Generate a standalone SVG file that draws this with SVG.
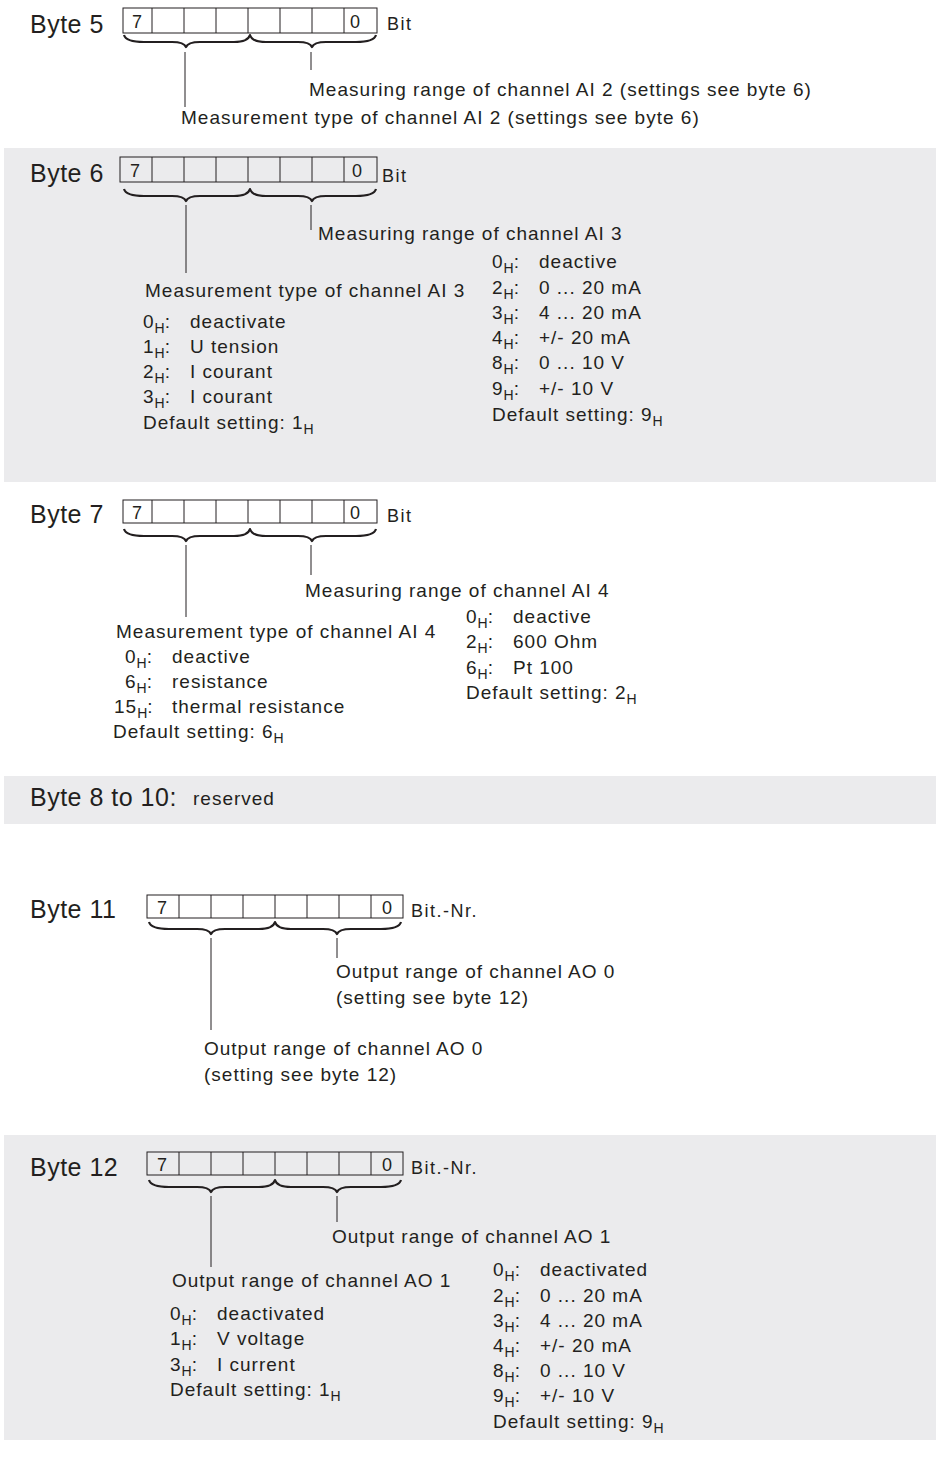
<svg xmlns="http://www.w3.org/2000/svg" width="936" height="1468" viewBox="0 0 936 1468">
<style>
text{font-family:"Liberation Sans",Arial,sans-serif;fill:#231f20}
.t{font-size:25px;letter-spacing:0.5px}
.l{font-size:19px;letter-spacing:1px}
.d{font-size:18px}
.b{font-size:18px;letter-spacing:1.5px}
.s{font-size:14px;letter-spacing:0}
.panel{fill:#ebebed}
.box{fill:none;stroke:#231f20;stroke-width:1}
.cl{stroke:#231f20;stroke-width:1}
.br{fill:none;stroke:#231f20;stroke-width:2.2;stroke-linejoin:round}
.ln{stroke:#231f20;stroke-width:1}
</style>
<defs>
<path id="brace" class="br" d="M0,0 Q2,7 20,7 L48,7 Q60,7 62,12 Q64,7 76,7 L110,7 Q124,7 126,0 Q128,7 142,7 L174,7 Q186,7 188,12 Q190,7 202,7 L232,7 Q250,7 252,0"/>
</defs>
<rect class="panel" x="4" y="148" width="932" height="334"/>
<rect class="panel" x="4" y="776" width="932" height="48"/>
<rect class="panel" x="4" y="1135" width="932" height="305"/>

<g id="byte5">
<text class="t" x="30" y="33">Byte 5</text>
<rect class="box" x="123" y="8" width="254" height="25"/>
<path class="cl" d="M152,8V33M184,8V33M216,8V33M248,8V33M280,8V33M312,8V33M344,8V33"/>
<text class="d" x="132" y="28">7</text>
<text class="d" x="350" y="28">0</text>
<text class="b" x="387" y="30">Bit</text>
<use href="#brace" x="124" y="35"/>
<text class="l" x="309" y="96">Measuring range of channel AI 2 (settings see byte 6)</text>
<text class="l" x="181" y="124">Measurement type of channel AI 2 (settings see byte 6)</text>
</g>

<g id="byte6">
<text class="t" x="30" y="182">Byte 6</text>
<rect class="box" x="120" y="157" width="257" height="25"/>
<path class="cl" d="M152,157V182M184,157V182M216,157V182M248,157V182M280,157V182M312,157V182M344,157V182"/>
<text class="d" x="130" y="177">7</text>
<text class="d" x="352" y="177">0</text>
<text class="b" x="382" y="182">Bit</text>
<use href="#brace" x="124" y="189"/>
<text class="l" x="318" y="240">Measuring range of channel AI 3</text>
<text class="l" x="145" y="297">Measurement type of channel AI 3</text>
<text class="l" x="143" y="328">0<tspan class="s" dy="5">H</tspan><tspan dy="-5">:</tspan></text><text class="l" x="190" y="328">deactivate</text>
<text class="l" x="143" y="353">1<tspan class="s" dy="5">H</tspan><tspan dy="-5">:</tspan></text><text class="l" x="190" y="353">U tension</text>
<text class="l" x="143" y="378">2<tspan class="s" dy="5">H</tspan><tspan dy="-5">:</tspan></text><text class="l" x="190" y="378">I courant</text>
<text class="l" x="143" y="403">3<tspan class="s" dy="5">H</tspan><tspan dy="-5">:</tspan></text><text class="l" x="190" y="403">I courant</text>
<text class="l" x="143" y="429">Default setting: 1<tspan class="s" dy="5">H</tspan></text>
<text class="l" x="492" y="268">0<tspan class="s" dy="5">H</tspan><tspan dy="-5">:</tspan></text><text class="l" x="539" y="268">deactive</text>
<text class="l" x="492" y="294">2<tspan class="s" dy="5">H</tspan><tspan dy="-5">:</tspan></text><text class="l" x="539" y="294">0 ... 20 mA</text>
<text class="l" x="492" y="319">3<tspan class="s" dy="5">H</tspan><tspan dy="-5">:</tspan></text><text class="l" x="539" y="319">4 ... 20 mA</text>
<text class="l" x="492" y="344">4<tspan class="s" dy="5">H</tspan><tspan dy="-5">:</tspan></text><text class="l" x="539" y="344">+/- 20 mA</text>
<text class="l" x="492" y="369">8<tspan class="s" dy="5">H</tspan><tspan dy="-5">:</tspan></text><text class="l" x="539" y="369">0 ... 10 V</text>
<text class="l" x="492" y="395">9<tspan class="s" dy="5">H</tspan><tspan dy="-5">:</tspan></text><text class="l" x="539" y="395">+/- 10 V</text>
<text class="l" x="492" y="421">Default setting: 9<tspan class="s" dy="5">H</tspan></text>
</g>

<g id="byte7">
<text class="t" x="30" y="523">Byte 7</text>
<rect class="box" x="123" y="500" width="254" height="23"/>
<path class="cl" d="M152,500V523M184,500V523M216,500V523M248,500V523M280,500V523M312,500V523M344,500V523"/>
<text class="d" x="132" y="519">7</text>
<text class="d" x="350" y="519">0</text>
<text class="b" x="387" y="522">Bit</text>
<use href="#brace" x="124" y="529"/>
<text class="l" x="305" y="597">Measuring range of channel AI 4</text>
<text class="l" x="116" y="638">Measurement type of channel AI 4</text>
<text class="l" x="125" y="663">0<tspan class="s" dy="5">H</tspan><tspan dy="-5">:</tspan></text><text class="l" x="172" y="663">deactive</text>
<text class="l" x="125" y="688">6<tspan class="s" dy="5">H</tspan><tspan dy="-5">:</tspan></text><text class="l" x="172" y="688">resistance</text>
<text class="l" x="114" y="713">15<tspan class="s" dy="5">H</tspan><tspan dy="-5">:</tspan></text><text class="l" x="172" y="713">thermal resistance</text>
<text class="l" x="113" y="738">Default setting: 6<tspan class="s" dy="5">H</tspan></text>
<text class="l" x="466" y="623">0<tspan class="s" dy="5">H</tspan><tspan dy="-5">:</tspan></text><text class="l" x="513" y="623">deactive</text>
<text class="l" x="466" y="648">2<tspan class="s" dy="5">H</tspan><tspan dy="-5">:</tspan></text><text class="l" x="513" y="648">600 Ohm</text>
<text class="l" x="466" y="674">6<tspan class="s" dy="5">H</tspan><tspan dy="-5">:</tspan></text><text class="l" x="513" y="674">Pt 100</text>
<text class="l" x="466" y="699">Default setting: 2<tspan class="s" dy="5">H</tspan></text>
</g>

<g id="byte8">
<text class="t" x="30" y="806">Byte 8 to 10:</text>
<text class="l" x="193" y="805">reserved</text>
</g>

<g id="byte11">
<text class="t" x="30" y="918">Byte 11</text>
<rect class="box" x="147" y="895" width="256" height="23"/>
<path class="cl" d="M179,895V918M211,895V918M243,895V918M275,895V918M307,895V918M339,895V918M371,895V918"/>
<text class="d" x="157" y="914">7</text>
<text class="d" x="382" y="914">0</text>
<text class="b" x="411" y="917">Bit.-Nr.</text>
<use href="#brace" x="149" y="922"/>
<text class="l" x="336" y="978">Output range of channel AO 0</text>
<text class="l" x="336" y="1004">(setting see byte 12)</text>
<text class="l" x="204" y="1055">Output range of channel AO 0</text>
<text class="l" x="204" y="1081">(setting see byte 12)</text>
</g>

<g id="byte12">
<text class="t" x="30" y="1176">Byte 12</text>
<rect class="box" x="147" y="1152" width="256" height="23"/>
<path class="cl" d="M179,1152V1175M211,1152V1175M243,1152V1175M275,1152V1175M307,1152V1175M339,1152V1175M371,1152V1175"/>
<text class="d" x="157" y="1171">7</text>
<text class="d" x="382" y="1171">0</text>
<text class="b" x="411" y="1174">Bit.-Nr.</text>
<use href="#brace" x="149" y="1180"/>
<text class="l" x="332" y="1243">Output range of channel AO 1</text>
<text class="l" x="172" y="1287">Output range of channel AO 1</text>
<text class="l" x="170" y="1320">0<tspan class="s" dy="5">H</tspan><tspan dy="-5">:</tspan></text><text class="l" x="217" y="1320">deactivated</text>
<text class="l" x="170" y="1345">1<tspan class="s" dy="5">H</tspan><tspan dy="-5">:</tspan></text><text class="l" x="217" y="1345">V voltage</text>
<text class="l" x="170" y="1371">3<tspan class="s" dy="5">H</tspan><tspan dy="-5">:</tspan></text><text class="l" x="217" y="1371">I current</text>
<text class="l" x="170" y="1396">Default setting: 1<tspan class="s" dy="5">H</tspan></text>
<text class="l" x="493" y="1276">0<tspan class="s" dy="5">H</tspan><tspan dy="-5">:</tspan></text><text class="l" x="540" y="1276">deactivated</text>
<text class="l" x="493" y="1302">2<tspan class="s" dy="5">H</tspan><tspan dy="-5">:</tspan></text><text class="l" x="540" y="1302">0 ... 20 mA</text>
<text class="l" x="493" y="1327">3<tspan class="s" dy="5">H</tspan><tspan dy="-5">:</tspan></text><text class="l" x="540" y="1327">4 ... 20 mA</text>
<text class="l" x="493" y="1352">4<tspan class="s" dy="5">H</tspan><tspan dy="-5">:</tspan></text><text class="l" x="540" y="1352">+/- 20 mA</text>
<text class="l" x="493" y="1377">8<tspan class="s" dy="5">H</tspan><tspan dy="-5">:</tspan></text><text class="l" x="540" y="1377">0 ... 10 V</text>
<text class="l" x="493" y="1402">9<tspan class="s" dy="5">H</tspan><tspan dy="-5">:</tspan></text><text class="l" x="540" y="1402">+/- 10 V</text>
<text class="l" x="493" y="1428">Default setting: 9<tspan class="s" dy="5">H</tspan></text>
</g>

<g id="connectors">
<path class="ln" d="M185,52V107M311,52V70"/>
<path class="ln" d="M186,205V273M311,205V230"/>
<path class="ln" d="M186,545V617M311,545V575"/>
<path class="ln" d="M211,938V1030M337,938V958"/>
<path class="ln" d="M211,1196V1267M337,1196V1222"/>
</g>
</svg>
